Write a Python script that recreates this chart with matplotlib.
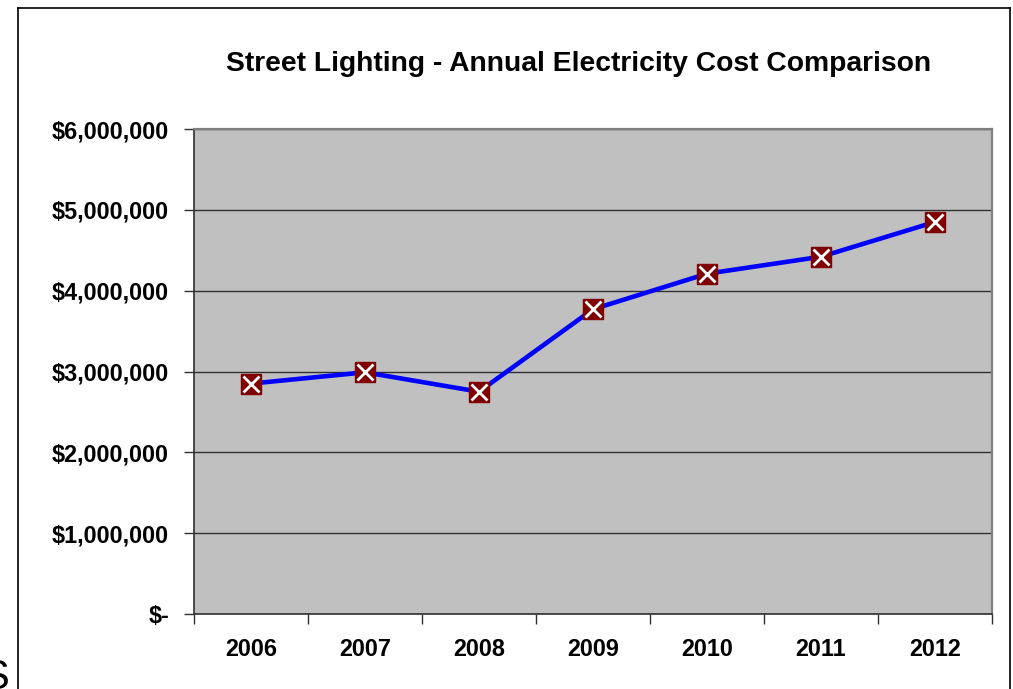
import matplotlib
matplotlib.use("Agg")
import matplotlib.pyplot as plt
from matplotlib.lines import Line2D
from matplotlib.ticker import FuncFormatter, FixedLocator

# Custos anuais de iluminação pública
anos = ["2006", "2007", "2008", "2009", "2010", "2011", "2012"]
custos = [2850000, 2990000, 2750000, 3770000, 4210000, 4420000, 4850000]
y_ticks = [0, 1000000, 2000000, 3000000, 4000000, 5000000, 6000000]

plt.rcParams['font.family'] = ['Liberation Sans', 'DejaVu Sans']

W, H = 1013, 689
fig = plt.figure(figsize=(W / 100, H / 100), dpi=100)
fig.patch.set_facecolor('white')

# moldura externa do gráfico
def fx(px):
    return px / W

def fy(py):
    return 1 - py / H

for xs, ys in [([18, 18], [8, 700]), ([18, 1010], [8, 8]), ([1010, 1010], [8, 700])]:
    fig.add_artist(Line2D([fx(v) for v in xs], [fy(v) for v in ys],
                          color='black', lw=1.2, transform=fig.transFigure))

# pedaço de texto cortado no canto inferior esquerdo
fig.text(fx(9), fy(689), "S", ha='right', va='baseline', fontsize=30)

ax = fig.add_axes([fx(194), fy(614), fx(992) - fx(194), fy(129) - fy(614)])
ax.set_facecolor('#C0C0C0')

x = list(range(len(anos)))
ax.plot(x, custos, color='#0000FF', lw=3.3, zorder=3)
ax.plot(x, custos, ls='none', marker='s', ms=14, mfc='#800000', mec='#800000', zorder=4)
ax.plot(x, custos, ls='none', marker='x', ms=11, mec='white', mew=2, zorder=5)

ax.set_ylim(0, 6000000)
ax.set_xlim(-0.5, len(anos) - 0.5)
ax.yaxis.set_major_locator(FixedLocator(y_ticks))
ax.yaxis.set_major_formatter(FuncFormatter(lambda v, p: "$-" if v == 0 else f"${v:,.0f}"))
ax.grid(axis='y', color='#303030', lw=1)
ax.set_axisbelow(True)

# ticks nos limites das categorias, rótulos no centro
ax.xaxis.set_major_locator(FixedLocator([i - 0.5 for i in range(len(anos) + 1)]))
ax.xaxis.set_major_formatter(FuncFormatter(lambda v, p: ""))
ax.set_xticks(x, minor=True)
ax.set_xticklabels(anos, minor=True)
ax.tick_params(axis='x', which='major', length=7, width=1, color='#303030', direction='out')
ax.tick_params(axis='x', which='minor', length=0, pad=17)
ax.tick_params(axis='y', length=7, width=1, color='#303030', direction='out', pad=11)

for lbl in ax.get_xticklabels(minor=True) + ax.get_yticklabels():
    lbl.set_fontweight('bold')
    lbl.set_fontsize(16.8)

ax.spines['left'].set_color('#303030')
ax.spines['bottom'].set_color('#303030')
ax.spines['left'].set_linewidth(1.2)
ax.spines['bottom'].set_linewidth(1.2)
ax.spines['top'].set_color('#808080')
ax.spines['right'].set_color('#808080')
ax.spines['top'].set_linewidth(1.6)
ax.spines['right'].set_linewidth(1.6)

fig.text(fx(579), fy(64), "Street Lighting - Annual Electricity Cost Comparison",
         ha='center', va='center', fontsize=20.3, fontweight='bold')

fig.savefig("out.png", dpi=100, facecolor='white')
